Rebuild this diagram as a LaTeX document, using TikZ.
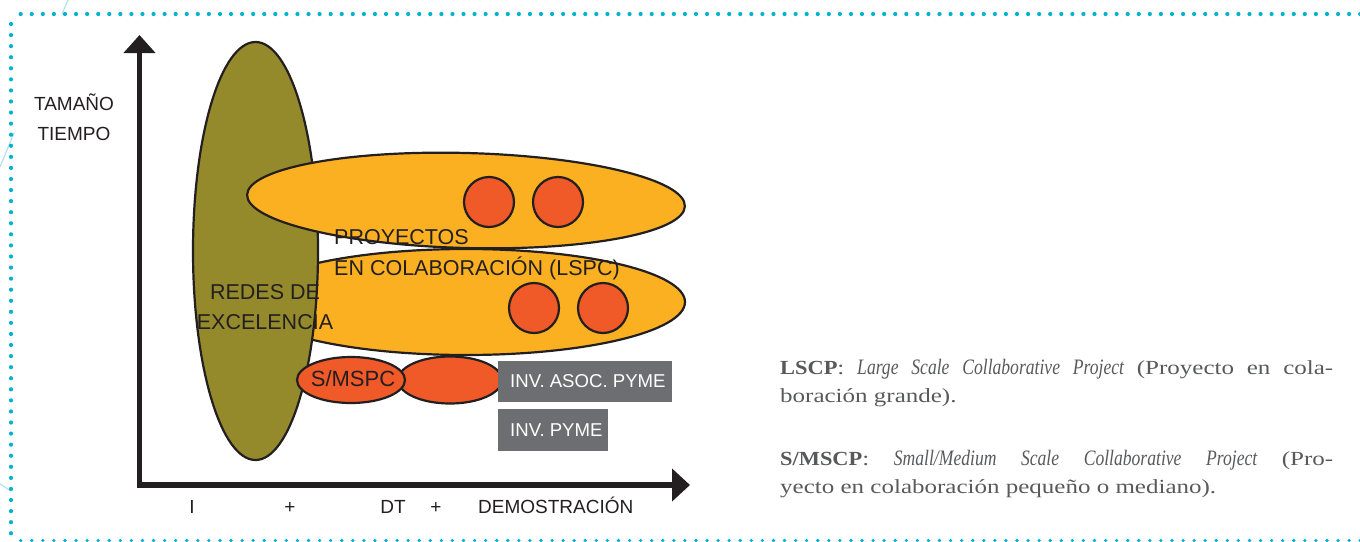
\documentclass[tikz,border=0pt]{standalone}
\usepackage{fontspec}
\setmainfont{Liberation Serif}
\newfontfamily\notefont[UprightFeatures={FakeStretch=1.25},BoldFeatures={FakeStretch=1.12},ItalicFeatures={FakeStretch=0.8}]{Liberation Serif}
\newfontfamily\dinfont{Liberation Sans}
\newcommand{\bigit}[1]{{\fontsize{22}{24}\selectfont\itshape #1}}
\usetikzlibrary{shapes.geometric,arrows.meta}
\definecolor{dotcyan}{RGB}{0,178,208}
\definecolor{olivef}{RGB}{148,138,44}
\definecolor{orangef}{RGB}{251,176,34}
\definecolor{redf}{RGB}{240,90,40}
\definecolor{greyf}{RGB}{109,110,113}
\definecolor{ink}{RGB}{35,31,32}
\definecolor{bodytext}{RGB}{88,89,91}
\definecolor{faint}{RGB}{178,224,237}
\begin{document}
\begin{tikzpicture}[x=1pt,y=-1pt,
  outl/.style={draw=ink,line width=2.2pt},
  blob/.style={outl,ellipse,inner sep=0pt},
  ring/.style={outl,circle,fill=redf,minimum size=50pt,inner sep=0pt},
  lbl/.style={font=\dinfont\fontsize{21.5}{24}\selectfont,text=ink,inner sep=0pt},
  axlbl/.style={font=\dinfont\fontsize{19}{22}\selectfont,text=ink,inner sep=0pt},
  tagbox/.style={fill=greyf,inner sep=0pt,anchor=north west},
  tagtxt/.style={font=\dinfont\fontsize{18.6}{22}\selectfont,text=white,inner sep=0pt,anchor=base west},
  note/.style={font=\notefont\fontsize{20}{24}\selectfont,text=bodytext,inner sep=0pt,anchor=base west},
  dotf/.style={fill=dotcyan}]
\useasboundingbox (0,0) rectangle (1360,541);
% faint background lines
\draw[faint,line width=1.2pt] (68,0) -- (62,14);
\draw[faint,line width=1.2pt] (14,133) -- (0,167);
\draw[faint,line width=1.2pt] (0,484) -- (11,491);
% dotted frame
\foreach \i in {0,...,121} \fill[dotf] (20.7+11.07*\i,14) circle (2.1pt);
\foreach \i in {0,...,46} \fill[dotf] (11,24+11.07*\i) circle (2.1pt);
\foreach \i in {0,...,121} \fill[dotf] (20.7+11.07*\i,540.5) circle (1.8pt);
% axes
\coordinate (ytip) at (139.5,35);
\coordinate (origin) at (139.5,485);
\coordinate (xtip) at (690,485);
\draw[draw=ink,line width=5.5pt,{Triangle[width=31pt,length=18pt]}-{Triangle[width=32pt,length=18pt]}] (ytip) -- (origin) -- (xtip);
% ellipses
\node[blob,fill=orangef,minimum width=438pt,minimum height=106pt] (lscpB) at (466,302) {};
\node[blob,fill=olivef,minimum width=125pt,minimum height=418pt] (redes) at (255.5,251) {};
\node[blob,fill=orangef,minimum width=438pt,minimum height=95pt,rotate=-1.5] (lscpA) at (466,200.5) {};
\node[ring] (c1) at (489,202) {};
\node[ring] (c2) at (558,202) {};
\node[ring] (c3) at (534,308) {};
\node[ring] (c4) at (603,308) {};
\node[blob,fill=redf,minimum width=104pt,minimum height=47pt] (smallB) at (450,380) {};
\node[blob,fill=redf,minimum width=108pt,minimum height=46pt] (smspc) at (351,380) {};
% grey tags
\node[tagbox,minimum width=174pt,minimum height=41pt] (boxA) at (498,361) {};
\node[tagbox,minimum width=110pt,minimum height=42pt] (boxB) at (498,409) {};
\node[tagtxt] (tA) at (510,387) {INV. ASOC. PYME};
\node[tagtxt] (tB) at (510,436) {INV. PYME};
% labels
\node[lbl,anchor=base west] (p1) at (334,244) {PROYECTOS};
\node[lbl,anchor=base west] (p2) at (334,275) {EN COLABORACIÓN (LSPC)};
\node[lbl,anchor=base] (r1) at (265,299) {REDES DE};
\node[lbl,anchor=base] (r2) at (265,329) {EXCELENCIA};
\node[lbl,anchor=base,font=\dinfont\fontsize{22}{24}\selectfont] (sm) at (353,386) {S/MSPC};
\node[axlbl,anchor=base] (ta) at (74,110) {TAMAÑO};
\node[axlbl,anchor=base] (ti) at (74,140) {TIEMPO};
\node[axlbl,anchor=base] (b1) at (192,513) {I};
\node[axlbl,anchor=base] (b2) at (290,513) {+};
\node[axlbl,anchor=base] (b3) at (393,513) {DT};
\node[axlbl,anchor=base] (b4) at (436,513) {+};
\node[axlbl,anchor=base west] (b5) at (478,513) {DEMOSTRACIÓN};
% notes
\node[note] (n1) at (780,374) {\makebox[553pt][s]{\textbf{LSCP}: \bigit{Large} \bigit{Scale} \bigit{Collaborative} \bigit{Project} (Proyecto en cola-}};
\node[note] (n2) at (780,402.5) {boración grande).};
\node[note] (n3) at (780,465) {\makebox[553pt][s]{\textbf{S/MSCP}: \bigit{Small/Medium} \bigit{Scale} \bigit{Collaborative} \bigit{Project} (Pro-}};
\node[note] (n4) at (780,493) {yecto en colaboración pequeño o mediano).};
\end{tikzpicture}
\end{document}
